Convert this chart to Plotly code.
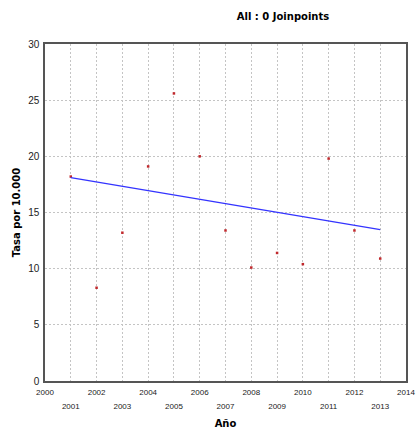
import plotly.graph_objects as go

years = [2001, 2002, 2003, 2004, 2005, 2006, 2007, 2008, 2009, 2010, 2011, 2012, 2013]
rates = [18.2, 8.3, 13.2, 19.1, 25.6, 20.0, 13.4, 10.1, 11.4, 10.4, 19.8, 13.4, 10.9]
trend_years = [2001, 2013]
trend_vals = [18.1, 13.47]
even_ticks = [2000, 2002, 2004, 2006, 2008, 2010, 2012, 2014]
odd_ticks = [2001, 2003, 2005, 2007, 2009, 2011, 2013]
all_ticks = list(range(2000, 2015))
y_ticks = [0, 5, 10, 15, 20, 25, 30]

fig = go.Figure()
fig.add_trace(go.Scatter(x=trend_years, y=trend_vals, mode="lines",
                         line=dict(color="#3333ff", width=1.2), xaxis="x2", yaxis="y",
                         hoverinfo="skip", showlegend=False))
fig.add_trace(go.Scatter(x=years, y=rates, mode="markers",
                         marker=dict(symbol="square", size=2.5, color="#c0282c"),
                         showlegend=False))

grid = dict(showgrid=True, gridcolor="#c4c4c4", griddash="2px,2px", gridwidth=1)
tfont = dict(family="Liberation Sans", size=8, color="#222")
fig.update_layout(
    width=417, height=432,
    margin=dict(l=45, r=11, t=44, b=51, autoexpand=False),
    paper_bgcolor="white", plot_bgcolor="white",
    title=dict(text="<b>All : 0 Joinpoints</b>", x=283/417, xanchor="center",
               y=1 - 16/432, yanchor="middle", automargin=False,
               font=dict(family="DejaVu Sans", size=10, color="black")),
    xaxis=dict(range=[2000, 2014], tickvals=all_ticks,
               ticktext=[str(t) if t % 2 == 0 else "" for t in all_ticks],
               tickfont=tfont, automargin=False,
               ticks="", showline=True, linecolor="#555", linewidth=1.5, mirror=True,
               zeroline=False, ticklabelstandoff=3,
               title=dict(text="<b>Año</b>", font=dict(family="DejaVu Sans", size=10, color="black"),
                          standoff=24),
               **grid),
    xaxis2=dict(range=[2000, 2014], overlaying="x", side="bottom", anchor="y",
                tickvals=odd_ticks, ticktext=[str(t) for t in odd_ticks],
                tickfont=tfont, automargin=False,
                ticks="", showgrid=False, zeroline=False, showline=False,
                ticklabelstandoff=19),
    yaxis=dict(range=[0, 30], tickvals=y_ticks,
               tickfont=dict(family="Liberation Sans", size=10, color="#222"),
               ticks="", showline=True, linecolor="#555", linewidth=1.5, mirror=True,
               zeroline=False, ticklabelstandoff=2, automargin=False,
               title=dict(text="<b>Tasa por 10.000</b>", font=dict(family="DejaVu Sans", size=10, color="black"),
                          standoff=6),
               **grid),
)
fig.write_html("out.html", config={"displayModeBar": False},
               post_script="document.body.style.margin='0';")
